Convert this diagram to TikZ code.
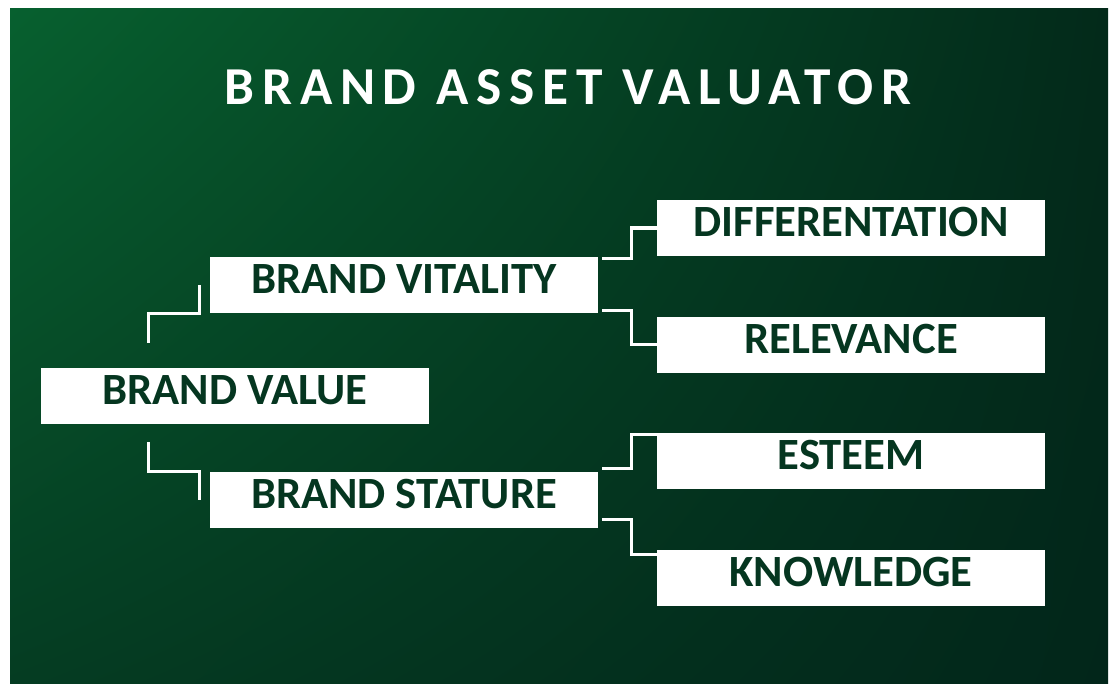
\documentclass[tikz,border=0pt]{standalone}
\usepackage{fontspec}
\setmainfont{Carlito}
\newfontfamily\titlefont[LetterSpace=14.5]{Carlito}
\usetikzlibrary{positioning,shadings}

\definecolor{bgul}{HTML}{07602F}
\definecolor{bgur}{HTML}{032A1A}
\definecolor{bgll}{HTML}{053C22}
\definecolor{bglr}{HTML}{02261A}
\definecolor{boxtext}{HTML}{053620}

\begin{document}
\begin{tikzpicture}[
    x=0.75pt, y=-0.75pt,
    box/.style={fill=white, text=boxtext, minimum width=291pt, minimum height=42pt,
        text height=22pt, text depth=9pt, inner sep=0pt,
        font=\fontsize{33.5}{33.5}\selectfont\bfseries},
    link/.style={draw=white, line width=2.4pt},
    node distance=45pt
]

    \useasboundingbox (0,0) rectangle (1109,684);
    \fill[white] (0,0) rectangle (1109,684);
    \shade[upper left=bgul, upper right=bgur, lower left=bgll, lower right=bglr]
        (10,9) rectangle (1108,684);

    % Title
    \node[text=white, font=\fontsize{40}{40}\selectfont\titlefont\bfseries] (title) at (568,87) {BRAND ASSET VALUATOR};

    % Left column
    \node[box] (val) at (235,396) {BRAND VALUE};
    \node[box] (vit) at (404,285) {BRAND VITALITY};
    \node[box] (sta) at (404,500) {BRAND STATURE};

    % Right column
    \node[box] (dif) at (851,228) {DIFFERENTATION};
    \node[box, below=of dif] (rel) {RELEVANCE};
    \node[box, below=of rel] (est) {ESTEEM};
    \node[box, below=of est] (kno) {KNOWLEDGE};

    % Connectors
    \draw[link] ([shift={(108,-25)}]val.north west) |- ([shift={(-10,0)}]vit.south west) -- ([shift={(-10,0)}]vit.west);
    \draw[link] ([shift={(108,18)}]val.south west) |- ([shift={(-10,0)}]sta.north west) -- ([shift={(-10,0)}]sta.west);

    \draw[link] ([shift={(4,2)}]vit.north east) -- ++(29,0) |- (dif.west);
    \draw[link] ([shift={(4,-3)}]vit.south east) -- ++(29,0) |- (rel.west);
    \draw[link] ([shift={(4,-3)}]sta.north east) -- ++(29,0) |- ([shift={(0,2)}]est.north west);
    \draw[link] ([shift={(4,-9)}]sta.south east) -- ++(29,0) |- ([shift={(0,5)}]kno.north west);

\end{tikzpicture}
\end{document}
